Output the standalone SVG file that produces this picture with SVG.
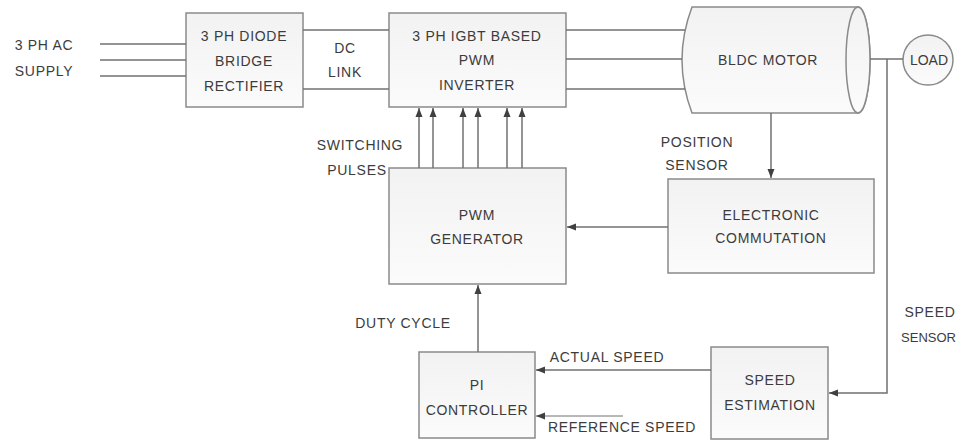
<svg xmlns="http://www.w3.org/2000/svg" width="958" height="441" viewBox="0 0 958 441">
<defs>
<linearGradient id="g" x1="0" y1="0" x2="0" y2="1">
<stop offset="0" stop-color="#f2f2f2"/>
<stop offset="1" stop-color="#fbfbfb"/>
</linearGradient>
<marker id="ah" markerWidth="10" markerHeight="8" refX="9" refY="4" orient="auto" markerUnits="userSpaceOnUse">
<path d="M0,0.5 L9,4 L0,7.5 Z" fill="#404040"/>
</marker>
<style>
.box{fill:url(#g);stroke:#8a8a8a;stroke-width:1.5}
.ln{fill:none;stroke:#707070;stroke-width:1.5}
.ar{fill:none;stroke:#707070;stroke-width:1.5;marker-end:url(#ah)}
text{font-family:"Liberation Sans",Arial,sans-serif;font-size:14px;fill:#3c3c3c;text-anchor:middle;letter-spacing:0.7px}
</style>
</defs>
<rect width="958" height="441" fill="#ffffff"/>

<g id="supply-label">
<text x="44" y="50">3 PH AC</text>
<text x="44" y="76">SUPPLY</text>
</g>

<g id="rectifier">
<rect class="box" x="186" y="13" width="117" height="94"/>
<text x="244" y="41">3 PH DIODE</text>
<text x="244" y="66">BRIDGE</text>
<text x="244" y="91">RECTIFIER</text>
</g>

<g id="inverter">
<rect class="box" x="389" y="13" width="177" height="94"/>
<text x="477" y="41">3 PH IGBT BASED</text>
<text x="477" y="65">PWM</text>
<text x="477" y="90">INVERTER</text>
</g>

<g id="motor">
<path class="box" d="M692,7 L858,7 A12,53 0 0 1 858,113 L692,113 Q672,60 692,7 Z"/>
<ellipse class="box" cx="858" cy="60" rx="12" ry="53"/>
<text x="768" y="65">BLDC MOTOR</text>
</g>

<g id="load">
<circle class="box" cx="928" cy="60" r="25"/>
<text x="929" y="65" style="letter-spacing:0">LOAD</text>
</g>

<g id="commutation">
<rect class="box" x="668" y="179" width="206" height="94"/>
<text x="771" y="220">ELECTRONIC</text>
<text x="771" y="243">COMMUTATION</text>
</g>

<g id="pwm-generator">
<rect class="box" x="389" y="168" width="177" height="116"/>
<text x="477" y="220">PWM</text>
<text x="477" y="244">GENERATOR</text>
</g>

<g id="pi-controller">
<rect class="box" x="419" y="352" width="116" height="86"/>
<text x="477" y="390">PI</text>
<text x="477" y="415">CONTROLLER</text>
</g>

<g id="speed-estimation">
<rect class="box" x="711" y="347" width="117" height="92"/>
<text x="770" y="385">SPEED</text>
<text x="770" y="410">ESTIMATION</text>
</g>

<g id="labels">
<text x="345" y="53">DC</text>
<text x="345" y="77">LINK</text>
<text x="360" y="150">SWITCHING</text>
<text x="357" y="175">PULSES</text>
<text x="697" y="147">POSITION</text>
<text x="697" y="170">SENSOR</text>
<text x="403" y="328">DUTY CYCLE</text>
<text x="607" y="362">ACTUAL SPEED</text>
<text x="622" y="432">REFERENCE SPEED</text>
<text x="930" y="317">SPEED</text>
<text x="956" y="342" style="text-anchor:end;letter-spacing:0;font-size:13px">SENSOR</text>
</g>

<g id="connectors">
<line class="ln" x1="100" y1="44" x2="186" y2="44"/>
<line class="ln" x1="100" y1="60" x2="186" y2="60"/>
<line class="ln" x1="100" y1="76" x2="186" y2="76"/>
<line class="ln" x1="303" y1="30" x2="389" y2="30"/>
<line class="ln" x1="303" y1="89" x2="389" y2="89"/>
<line class="ln" x1="566" y1="30" x2="685" y2="30"/>
<line class="ln" x1="566" y1="59" x2="682" y2="59"/>
<line class="ln" x1="566" y1="89" x2="685" y2="89"/>
<line class="ln" x1="870" y1="59" x2="903" y2="59"/>
<path class="ar" d="M887,59 L887,393 L829,393"/>
<line class="ar" x1="771" y1="113" x2="771" y2="178"/>
<line class="ar" x1="668" y1="227" x2="567" y2="227"/>
<line class="ar" x1="419" y1="168" x2="419" y2="108"/>
<line class="ar" x1="433" y1="168" x2="433" y2="108"/>
<line class="ar" x1="463" y1="168" x2="463" y2="108"/>
<line class="ar" x1="478" y1="168" x2="478" y2="108"/>
<line class="ar" x1="507" y1="168" x2="507" y2="108"/>
<line class="ar" x1="522" y1="168" x2="522" y2="108"/>
<line class="ar" x1="478" y1="352" x2="478" y2="285"/>
<line class="ar" x1="711" y1="370" x2="536" y2="370"/>
<line class="ar" x1="623" y1="416" x2="536" y2="416" style="stroke-width:1"/>
</g>
</svg>
